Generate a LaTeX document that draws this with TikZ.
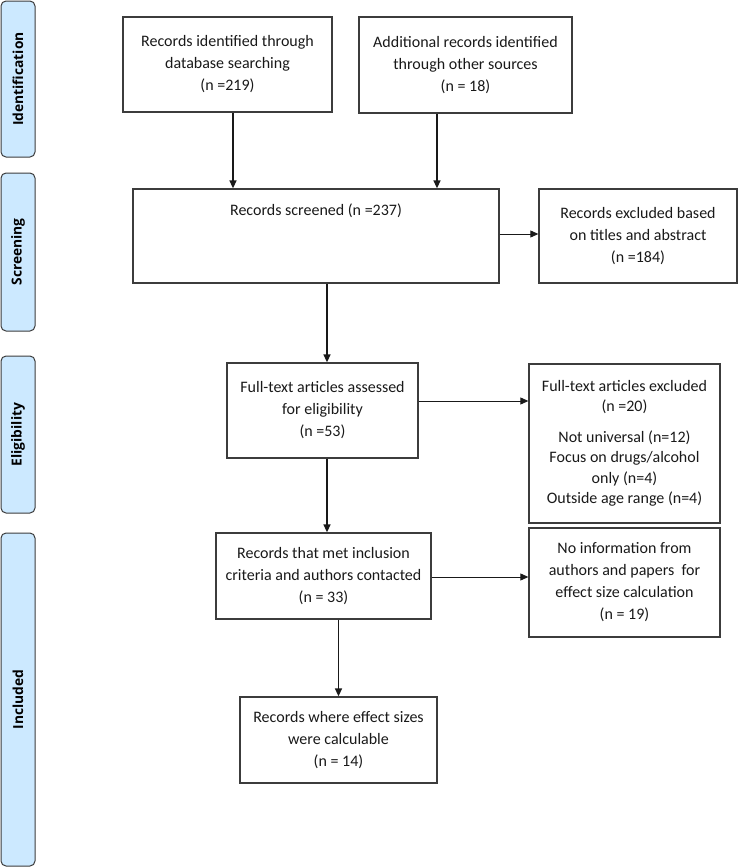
\documentclass[tikz,border=0pt]{standalone}
\usepackage{fontspec}
\setmainfont{Carlito}
\newfontfamily\sidefont{Open Sans}
\usetikzlibrary{arrows.meta, positioning}

\definecolor{stagefill}{RGB}{204,233,255}
\definecolor{boxline}{RGB}{60,60,60}

\begin{document}
\begin{tikzpicture}[x=1pt, y=-1pt,
    box/.style={draw=boxline, line width=1.3pt, rectangle, align=center, inner sep=2pt,
                text=black!90, font=\fontsize{16}{22}\selectfont},
    stage/.style={draw=boxline, fill=stagefill, line width=1pt, rounded corners=5pt,
                  minimum width=34pt, inner sep=0pt},
    stagetext/.style={rotate=90, font=\sidefont\bfseries\fontsize{13.8}{15}\selectfont},
    arr/.style={line width=1.5pt, black!90, -{Triangle[length=8pt, width=7pt]}},
    sidearr/.style={line width=0.9pt, black!90, -{Triangle[length=8pt, width=7pt]}}]
    \useasboundingbox (0,0) rectangle (738,868);

    % stages on the left
    \node[stage, minimum height=156pt] (ident) at (18,79) {};
    \node[stagetext] (identtxt) at (ident.center) {Identification};
    \node[stage, minimum height=158pt] (screen) at (18,252) {};
    \node[stagetext] (screentxt) at (screen.center) {Screening};
    \node[stage, minimum height=157pt] (elig) at (18,434.5) {};
    \node[stagetext] (eligtxt) at (elig.center) {Eligibility};
    \node[stage, minimum height=333pt] (incl) at (18,699.5) {};
    \node[stagetext] (incltxt) at (incl.center) {Included};

    % flow boxes
    \node[box, minimum width=209pt, minimum height=95pt] (database) at (227.5,64.5)
        {Records identified through\\database searching\\(n =219)};
    \node[box, minimum width=213pt, minimum height=96pt] (other) at (465.5,65)
        {Additional records identified\\through other sources\\(n = 18)};
    \node[box, minimum width=366pt, minimum height=94pt, text depth=52pt] (screened) at (316,236)
        {Records screened (n =237)};
    \node[box, minimum width=198pt, minimum height=94pt] (excluded) at (638,236)
        {Records excluded based\\on titles and abstract\\(n =184)};
    \node[box, minimum width=191pt, minimum height=95pt] (fulltext) at (322.5,410.5)
        {Full-text articles assessed\\for eligibility\\(n =53)};
    \node[box, minimum width=191pt, minimum height=159pt, font=\fontsize{16}{20.5}\selectfont] (ftexcl) at (624.5,443.5)
        {Full-text articles excluded\\(n =20)\\[10pt]Not universal (n=12)\\Focus on drugs/alcohol\\only (n=4)\\Outside age range (n=4)};
    \node[box, minimum width=215pt, minimum height=86pt] (met) at (323.5,576)
        {Records that met inclusion\\criteria and authors contacted\\(n = 33)};
    \node[box, minimum width=191pt, minimum height=109pt] (noinfo) at (624.5,582.5)
        {No information from\\authors and papers\ \ for\\effect size calculation\\(n = 19)};
    \node[box, minimum width=197pt, minimum height=86pt] (calc) at (338.5,740)
        {Records where effect sizes\\were calculable\\(n = 14)};

    % connectors
    \draw[arr] ([xshift=5.5pt]database.south) -- ([xshift=5.5pt]database.south |- screened.north);
    \draw[arr] ([xshift=-28.5pt]other.south) -- ([xshift=-28.5pt]other.south |- screened.north);
    \draw[sidearr] ([yshift=2pt]screened.east) -- ([yshift=2pt]screened.east -| excluded.west);
    \draw[arr] ([xshift=4.5pt]fulltext.north |- screened.south) -- ([xshift=4.5pt]fulltext.north);
    \draw[sidearr] ([yshift=9.5pt]fulltext.east) -- ([yshift=9.5pt]fulltext.east -| ftexcl.west);
    \draw[arr] ([xshift=4.5pt]fulltext.south) -- ([xshift=4.5pt]fulltext.south |- met.north);
    \draw[sidearr] ([yshift=-1pt]met.east) -- ([yshift=-1pt]met.east -| noinfo.west);
    \draw[arr] (met.south -| calc.north) -- (calc.north);
\end{tikzpicture}
\end{document}
